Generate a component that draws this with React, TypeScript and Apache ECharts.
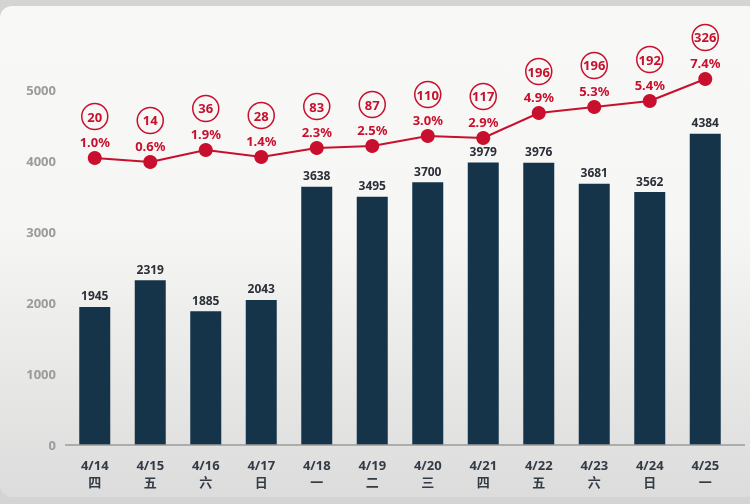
import React, { useEffect, useRef } from "react";
import * as echarts from "echarts";

const dates = ["4/14", "4/15", "4/16", "4/17", "4/18", "4/19", "4/20", "4/21", "4/22", "4/23", "4/24", "4/25"];
const weekdays = ["四", "五", "六", "日", "一", "二", "三", "四", "五", "六", "日", "一"];
const barValues = [1945, 2319, 1885, 2043, 3638, 3495, 3700, 3979, 3976, 3681, 3562, 4384];
const circleValues = [20, 14, 36, 28, 83, 87, 110, 117, 196, 196, 192, 326];
const percentLabels = ["1.0%", "0.6%", "1.9%", "1.4%", "2.3%", "2.5%", "3.0%", "2.9%", "4.9%", "5.3%", "5.4%", "7.4%"];
// line marker heights (hidden secondary scale)
const lineLevels = [4042, 3986, 4155, 4056, 4183, 4211, 4352, 4324, 4676, 4761, 4845, 5155];
const yTicks = [0, 1000, 2000, 3000, 4000, 5000];

const RED = "#c8102e";
const NAVY = "#153449";
const FONT = "'Noto Sans', 'Noto Sans CJK SC', sans-serif";

export default function App() {
  const ref = useRef<HTMLDivElement>(null);
  useEffect(() => {
    if (!ref.current) return;
    const chart = echarts.init(ref.current, null, { renderer: "svg" });
    const categories = dates.map((d, i) => d + "\n" + weekdays[i]);
    chart.setOption({
      animation: false,
      textStyle: { fontFamily: FONT },
      graphic: [
        { type: "rect", z: -10, silent: true, shape: { x: 0, y: 0, width: 750, height: 504 }, style: { fill: "#d4d4d4" } },
        {
          type: "rect",
          z: -9,
          silent: true,
          shape: { x: 0, y: 6, width: 760, height: 491, r: 12 },
          style: {
            fill: new echarts.graphic.LinearGradient(0, 0, 0, 1, [
              { offset: 0, color: "#f8f8f6" },
              { offset: 0.45, color: "#f6f6f4" },
              { offset: 1, color: "#dcdcdc" },
            ]),
          },
        },
        { type: "line", z: 5, silent: true, shape: { x1: 65, y1: 445, x2: 745, y2: 445 }, style: { stroke: "#9a9a9a", lineWidth: 1.5 } },
      ],
      grid: { left: 67, right: 17, top: 19, bottom: 59 },
      xAxis: {
        type: "category",
        data: categories,
        axisLine: { show: false },
        axisTick: { show: false },
        axisLabel: {
          color: "#333b45",
          fontSize: 13,
          fontWeight: "bold",
          lineHeight: 17,
          margin: 11,
          interval: 0,
          fontFamily: FONT,
        },
      },
      yAxis: [
        {
          type: "value",
          min: 0,
          max: 6000,
          interval: 1000,
          splitLine: { show: false },
          axisLine: { show: false },
          axisTick: { show: false },
          axisLabel: {
            color: "#9b9b9b",
            fontSize: 13,
            fontWeight: "bold",
            margin: 11,
            formatter: (v: number) => (yTicks.indexOf(v) >= 0 ? String(v) : ""),
          },
        },
        { type: "value", min: 0, max: 6000, show: false },
      ],
      series: [
        {
          type: "bar",
          data: barValues,
          barWidth: 31,
          itemStyle: { color: NAVY },
          label: {
            show: true,
            position: "top",
            distance: 5,
            color: "#2b2f38",
            fontSize: 12,
            fontWeight: "bold",
            fontFamily: FONT,
          },
        },
        {
          type: "line",
          yAxisIndex: 1,
          data: lineLevels,
          symbol: "circle",
          symbolSize: 14,
          clip: false,
          lineStyle: { color: RED, width: 2 },
          itemStyle: { color: RED },
          z: 10,
          label: {
            show: true,
            position: "top",
            distance: 1,
            formatter: (p: any) => `{c|${circleValues[p.dataIndex]}}\n{p|${percentLabels[p.dataIndex]}}`,
            rich: {
              c: {
                color: RED,
                fontSize: 13,
                fontWeight: "bold",
                fontFamily: FONT,
                width: 26,
                height: 26,
                lineHeight: 35,
                align: "center",
                borderColor: RED,
                borderWidth: 1.5,
                borderRadius: 14,
              },
              p: {
                color: RED,
                fontSize: 13,
                fontWeight: "bold",
                fontFamily: FONT,
                lineHeight: 16,
                align: "center",
              },
            },
          },
        },
      ],
    });
    return () => chart.dispose();
  }, []);
  return <div ref={ref} style={{ position: "fixed", left: 0, top: 0, width: 750, height: 504 }} />;
}
